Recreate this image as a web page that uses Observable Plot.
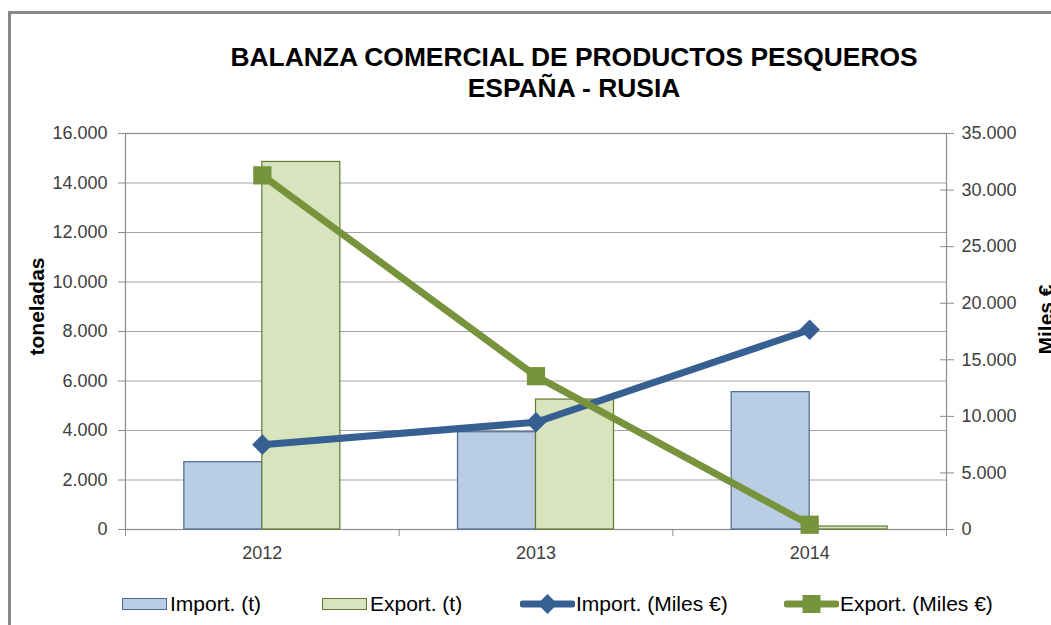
<!DOCTYPE html>
<html>
<head>
<meta charset="utf-8">
<script src="https://cdn.jsdelivr.net/npm/d3@7"></script>
<script src="https://cdn.jsdelivr.net/npm/@observablehq/plot@0.6"></script>
<style>
  html, body { margin: 0; padding: 0; background: #fff; overflow: hidden; width: 1051px; height: 625px; }
  body { font-family: "Liberation Sans", Arial, sans-serif; }
  #wrap { position: absolute; left: 8px; top: 11px; width: 1200px; height: 700px;
          border-left: 3px solid #878787; border-top: 3px solid #878787; }
  #title { width: 1126px; text-align: center; font-weight: bold; font-size: 26.4px; line-height: 31px;
           padding-top: 28px; color: #000; }
  #legend { position: relative; height: 24px; margin-top: 18px; font-size: 21px; color: #000; }
  .item { position: absolute; top: 0; height: 24px; line-height: 24px; display: flex; align-items: center; white-space: nowrap; }
  .sw { display: inline-block; width: 43px; height: 10px; margin-right: 3px; }
  .item svg { display: block; margin-right: 1px; }
</style>
</head>
<body>
<div id="wrap">
  <div id="title">BALANZA COMERCIAL DE PRODUCTOS PESQUEROS<br>ESPAÑA - RUSIA</div>
  <div id="chart"></div>
  <div id="legend"></div>
</div>
<script>
// ---- data ----
const years = ["2012", "2013", "2014"];
const importT = [2720, 3930, 5550];        // toneladas (left axis)
const exportT = [14850, 5250, 120];        // toneladas (left axis)
const importEur = [7500, 9480, 17650];     // Miles € (right axis)
const exportEur = [31300, 13550, 420];     // Miles € (right axis)
const leftTicks = [0, 2000, 4000, 6000, 8000, 10000, 12000, 14000, 16000];
const rightTicks = [0, 5000, 10000, 15000, 20000, 25000, 30000, 35000];
const seriesNames = ["Import. (t)", "Export. (t)", "Import. (Miles €)", "Export. (Miles €)"];

// ---- styles ----
const C = {
  impFill: "#b9cde5", impStroke: "#4a6a94",
  expFill: "#d7e4bd", expStroke: "#60782f",
  impLine: "#376092", expLine: "#77933c",
  grid: "#a3a3a3", axis: "#8c8c8c", tick: "#404040"
};

const fmt = d3.formatLocale({decimal: ",", thousands: ".", grouping: [3], currency: ["", "€"]}).format(",.0f");
const ratio = leftTicks[leftTicks.length - 1] / rightTicks[rightTicks.length - 1];
const bw = 0.285; // bar width in category units

const rowsImpT = years.map((y, i) => ({i, v: importT[i]}));
const rowsExpT = years.map((y, i) => ({i, v: exportT[i]}));
const rowsImpE = years.map((y, i) => ({i, v: importEur[i]}));
const rowsExpE = years.map((y, i) => ({i, v: exportEur[i]}));

const diamond = {
  draw(ctx, size) {
    const h = Math.sqrt(size / 2);
    ctx.moveTo(0, -h); ctx.lineTo(h, 0); ctx.lineTo(0, h); ctx.lineTo(-h, 0); ctx.closePath();
  }
};

const plot = Plot.plot({
  width: 1045,
  height: 470,
  marginLeft: 114,
  marginRight: 110,
  marginTop: 29,
  marginBottom: 45,
  style: {fontFamily: "'Liberation Sans', Arial, sans-serif", fontSize: "18px", color: C.tick, background: "transparent", overflow: "visible"},
  x: {type: "linear", domain: [0, years.length], axis: null},
  y: {domain: [leftTicks[0], leftTicks[leftTicks.length - 1]], axis: null},
  marks: [
    Plot.ruleY(leftTicks.slice(1), {stroke: C.grid, strokeWidth: 1.2}),
    Plot.frame({stroke: C.axis, strokeWidth: 1.2}),
    Plot.rect(rowsImpT, {x1: d => d.i + 0.5 - bw, x2: d => d.i + 0.5, y1: 0, y2: d => d.v,
      fill: C.impFill, stroke: C.impStroke, strokeWidth: 1.2}),
    Plot.rect(rowsExpT, {x1: d => d.i + 0.5, x2: d => d.i + 0.5 + bw, y1: 0, y2: d => d.v,
      fill: C.expFill, stroke: C.expStroke, strokeWidth: 1.2}),
    Plot.line(rowsImpE, {x: d => d.i + 0.5, y: d => d.v * ratio, stroke: C.impLine, strokeWidth: 7}),
    Plot.dot(rowsImpE, {x: d => d.i + 0.5, y: d => d.v * ratio, symbol: diamond, r: 8.2, fill: C.impLine, stroke: "none"}),
    Plot.line(rowsExpE, {x: d => d.i + 0.5, y: d => d.v * ratio, stroke: C.expLine, strokeWidth: 7}),
    Plot.dot(rowsExpE, {x: d => d.i + 0.5, y: d => d.v * ratio, symbol: "square", r: 10.3, fill: C.expLine, stroke: "none"}),
    // left axis
    Plot.axisY(leftTicks, {anchor: "left", tickSize: 7, tickPadding: 11, stroke: C.axis, tickFormat: fmt, fill: C.tick}),
    // right axis
    Plot.axisY(rightTicks.map(d => d * ratio), {anchor: "right", tickSize: 7, tickPadding: 8, stroke: C.axis,
      tickFormat: d => fmt(Math.round(d / ratio)), fill: C.tick}),
    Plot.ruleY(rightTicks, {y: d => d * ratio, x1: () => years.length, x2: () => years.length, insetLeft: -6, stroke: C.axis}),
    // bottom axis: category boundaries + labels
    Plot.axisX(d3.range(years.length + 1), {tickSize: 7, stroke: C.axis, tickFormat: () => ""}),
    Plot.axisX(years.map((y, i) => i + 0.5), {tickSize: 0, tickPadding: 17, tickFormat: d => years[Math.floor(d)], fill: C.tick}),
    // axis titles
    Plot.text(["toneladas"], {frameAnchor: "left", textAnchor: "middle", dx: -88, dy: -25, rotate: -90, fontWeight: "bold", fontSize: 21, fill: "#000"}),
    Plot.text(["Miles €"], {frameAnchor: "right", textAnchor: "middle", dx: 106, dy: -12, rotate: -90, lineAnchor: "bottom", fontWeight: "bold", fontSize: 21, fill: "#000"})
  ]
});
document.getElementById("chart").appendChild(plot);

// ---- legend ----
const legend = document.getElementById("legend");
const legendLeft = [111, 311, 509, 773];
function lineSwatch(color, shape, w) {
  const ns = "http://www.w3.org/2000/svg";
  const s = document.createElementNS(ns, "svg");
  s.setAttribute("width", w); s.setAttribute("height", 24);
  const l = document.createElementNS(ns, "line");
  l.setAttribute("x1", 3); l.setAttribute("x2", w - 3); l.setAttribute("y1", 12); l.setAttribute("y2", 12);
  l.setAttribute("stroke", color); l.setAttribute("stroke-width", 7); l.setAttribute("stroke-linecap", "round");
  s.appendChild(l);
  const p = document.createElementNS(ns, "path");
  const cx = w / 2;
  if (shape === "diamond") p.setAttribute("d", `M${cx},2L${cx + 10},12L${cx},22L${cx - 10},12Z`);
  else p.setAttribute("d", `M${cx - 9},3h18v18h-18Z`);
  p.setAttribute("fill", color);
  s.appendChild(p);
  return s;
}
seriesNames.forEach((name, k) => {
  const item = document.createElement("div");
  item.className = "item";
  item.style.left = legendLeft[k] + "px";
  if (k < 2) {
    const sw = document.createElement("span");
    sw.className = "sw";
    sw.style.background = k === 0 ? C.impFill : C.expFill;
    sw.style.border = "1px solid " + (k === 0 ? C.impStroke : C.expStroke);
    item.appendChild(sw);
  } else {
    item.appendChild(lineSwatch(k === 2 ? C.impLine : C.expLine, k === 2 ? "diamond" : "square", 55));
  }
  const t = document.createElement("span");
  t.textContent = name;
  item.appendChild(t);
  legend.appendChild(item);
});
</script>
</body>
</html>
